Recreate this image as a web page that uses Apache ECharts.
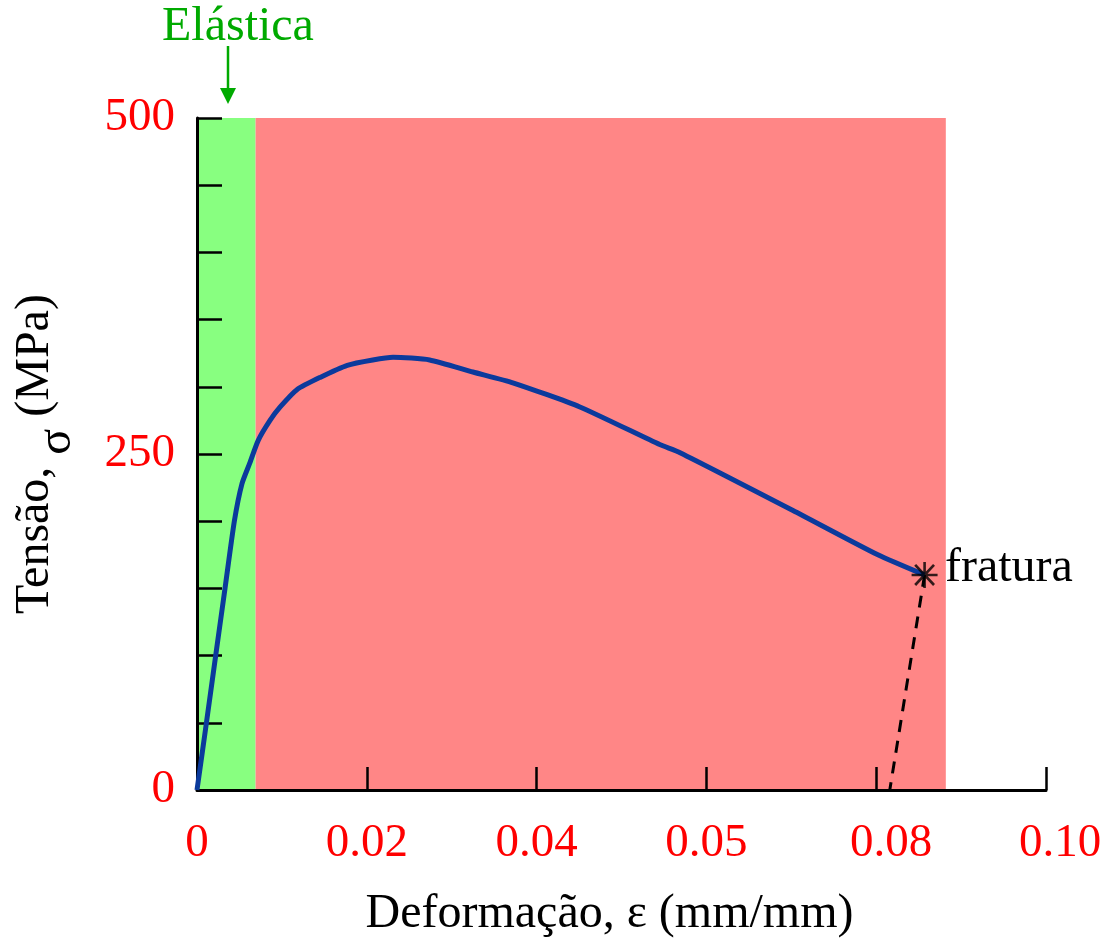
<!DOCTYPE html>
<html>
<head>
<meta charset="utf-8">
<script src="https://cdn.jsdelivr.net/npm/echarts@6/dist/echarts.min.js"></script>
<style>
html,body{margin:0;padding:0;background:#fff;}
#chart{width:1108px;height:938px;}
</style>
</head>
<body>
<div id="chart"></div>
<script>
// strain (mm/mm) vs stress (MPa)
const strain = [0, 0.0010, 0.0022, 0.0033, 0.0044, 0.0053, 0.0062, 0.0072, 0.0086, 0.0098, 0.0118, 0.0145, 0.0177, 0.0207, 0.0231, 0.0274, 0.0325, 0.0372, 0.0451, 0.0545, 0.0569, 0.0702, 0.0802, 0.0857];
const stress = [0, 45, 100, 150, 200, 228, 243, 260, 275, 285, 298, 307, 316, 320, 322, 320, 311, 303, 285, 257, 251, 208, 175, 160];
// unloading (dashed) after fracture
const fractureStrain = [0.0857, 0.0816];
const fractureStress = [160, 0];
// regions
const elasticEnd = 0.0069;
const plasticEnd = 0.0882;
// tick labels
const xTicks = [0, 0.02, 0.04, 0.06, 0.08, 0.10];
const xTickLabels = ['0', '0.02', '0.04', '0.05', '0.08', '0.10'];
const yTickLabels = { 0: '0', 250: '250', 500: '500' };

const FONT = '"Liberation Serif", "Times New Roman", serif';
const chart = echarts.init(document.getElementById('chart'));

const curve = strain.map((s, i) => [s, stress[i]]);
const dashed = fractureStrain.map((s, i) => [s, fractureStress[i]]);

const lblStyle = { fontFamily: FONT, fontSize: 47, color: '#ff0000' };

chart.setOption({
  animation: false,
  backgroundColor: '#ffffff',
  grid: { left: 197, right: 62, top: 118, bottom: 148, containLabel: false, outerBoundsMode: 'none' },
  xAxis: {
    type: 'value', min: 0, max: 0.10, interval: 0.02, z: 10,
    name: 'Deformação, ε (mm/mm)', nameLocation: 'middle', nameGap: 100,
    nameTextStyle: { fontFamily: FONT, fontSize: 48, color: '#000', padding: [0, 24, 0, 0] },
    axisLine: { show: true, onZero: false, lineStyle: { color: '#000', width: 3 } },
    axisTick: { show: true, inside: true, length: 23, lineStyle: { color: '#000', width: 2.5 } },
    axisLabel: {
      margin: 30, fontFamily: FONT, fontSize: 47, color: '#ff0000',
      rich: {
        n: Object.assign({}, lblStyle),
        r1: Object.assign({ padding: [0, 0, 0, 30] }, lblStyle),
        r2: Object.assign({ padding: [0, 0, 0, 28] }, lblStyle)
      },
      formatter: v => {
        const i = xTicks.findIndex(t => Math.abs(t - v) < 1e-9);
        if (i < 0) return '';
        const st = i === 4 ? 'r1' : (i === 5 ? 'r2' : 'n');
        return '{' + st + '|' + xTickLabels[i] + '}';
      }
    },
    splitLine: { show: false }
  },
  yAxis: {
    type: 'value', min: 0, max: 500, interval: 50, z: 10,
    name: '{a|Tensão, }{b|σ}{a| (MPa)}', nameLocation: 'middle', nameGap: 116, nameRotate: 90,
    nameTextStyle: {
      fontFamily: FONT, fontSize: 48, color: '#000',
      rich: {
        a: { fontFamily: FONT, fontSize: 48, color: '#000' },
        b: { fontFamily: FONT, fontSize: 48, color: '#000', padding: [44, 0, 0, 0] }
      }
    },
    axisLine: { show: true, onZero: false, lineStyle: { color: '#000', width: 3 } },
    axisTick: { show: true, inside: true, length: 25, lineStyle: { color: '#000', width: 2.5 } },
    axisLabel: {
      margin: 22, fontFamily: FONT, fontSize: 47, color: '#ff0000',
      formatter: v => (yTickLabels[v] !== undefined ? yTickLabels[v] : '')
    },
    splitLine: { show: false }
  },
  series: [
    {
      type: 'line', data: [], silent: true, z: 1,
      markArea: {
        silent: true,
        data: [
          [{ xAxis: 0, yAxis: 0, itemStyle: { color: '#88ff80' } }, { xAxis: elasticEnd, yAxis: 500 }],
          [{ xAxis: elasticEnd, yAxis: 0, itemStyle: { color: '#ff8686' } }, { xAxis: plasticEnd, yAxis: 500 }]
        ]
      }
    },
    {
      type: 'line', data: dashed, showSymbol: false, z: 12,
      lineStyle: { color: '#000', width: 3, type: [12, 9] }
    },
    {
      type: 'line', data: curve, showSymbol: false, smooth: 0.2, z: 13,
      lineStyle: { color: '#0b3a9c', width: 5 }
    },
    {
      type: 'scatter', data: [curve[curve.length - 1]], z: 14,
      symbol: 'path://M0,9 L20,9 L20,11 L0,11 Z M2,3 L3.5,1.6 L18,17 L16.5,18.4 Z M16.5,1.6 L18,3 L3.5,18.4 L2,17 Z M9,0 L11,0 L11,20 L9,20 Z',
      symbolSize: 26, itemStyle: { color: '#000' }
    }
  ],
  graphic: [
    { type: 'text', left: 162, top: 3, style: { text: 'Elástica', font: '48px ' + FONT, fill: '#00aa00' } },
    { type: 'line', shape: { x1: 228, y1: 46, x2: 228, y2: 92 }, style: { stroke: '#00aa00', lineWidth: 2.5 } },
    { type: 'polygon', shape: { points: [[220, 88], [236, 88], [228, 104]] }, style: { fill: '#00aa00' } },
    { type: 'text', left: 501, top: 256, style: { text: 'Plástica', font: '48px ' + FONT, fill: '#ff0000' } },
    { type: 'text', left: 945, top: 544, style: { text: 'fratura', font: '48px ' + FONT, fill: '#000' } }
  ]
});
</script>
</body>
</html>
